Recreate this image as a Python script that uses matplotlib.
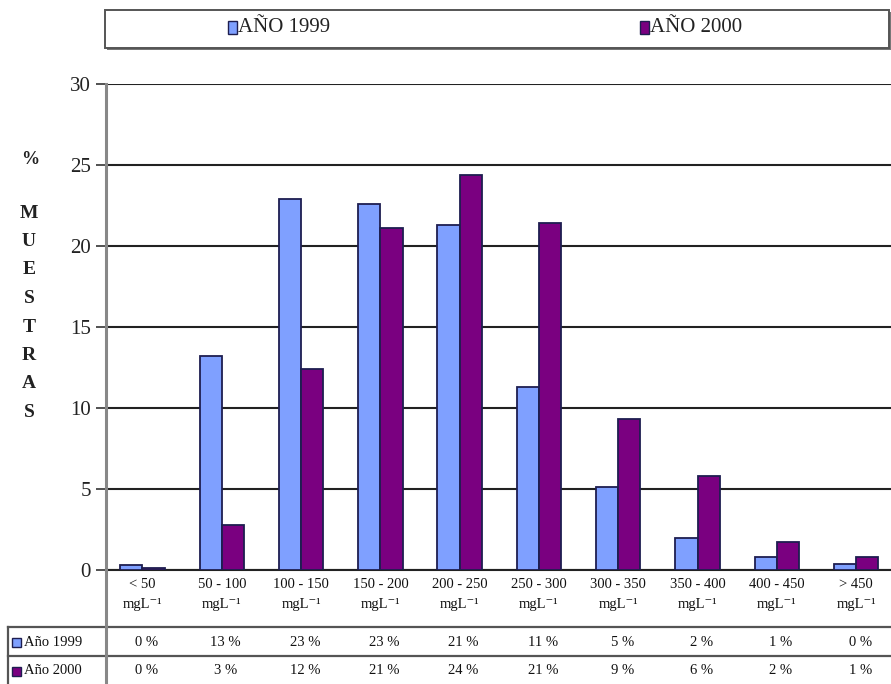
import matplotlib
matplotlib.use("Agg")
import matplotlib.pyplot as plt
import matplotlib.transforms as mtransforms
from matplotlib.patches import Rectangle
from matplotlib.lines import Line2D
import numpy as np

# Concentration classes and share of samples (%) per year
categories = ["< 50", "50 - 100", "100 - 150", "150 - 200", "200 - 250",
              "250 - 300", "300 - 350", "350 - 400", "400 - 450", "> 450"]
unit = "mgL\u207b\u00b9"
year_1999 = [0.3, 13.2, 22.9, 22.6, 21.3, 11.3, 5.1, 2.0, 0.8, 0.4]
year_2000 = [0.15, 2.8, 12.4, 21.1, 24.4, 21.4, 9.3, 5.8, 1.7, 0.8]
series_names = ["AÑO 1999", "AÑO 2000"]
row_names = ["Año 1999", "Año 2000"]
y_ticks = [0, 5, 10, 15, 20, 25, 30]

c1999 = "#7FA0FF"
c2000 = "#7A0080"
edge = "#1E1E50"
serif = ["Liberation Serif", "DejaVu Serif"]

W, H = 891, 684
fig = plt.figure(figsize=(W / 100, H / 100), dpi=100)
fig.patch.set_facecolor("white")


def fx(px):
    return px / W


def fy(py):
    return 1 - py / H


ax_left, ax_right, ax_top, ax_bot = 106, 891, 84, 570
ax = fig.add_axes([fx(ax_left), fy(ax_bot), fx(ax_right - ax_left), fy(ax_top) - fy(ax_bot)])

x = np.arange(len(categories))
bw = 0.28
ax.bar(x - bw / 2, year_1999, width=bw, color=c1999, edgecolor=edge, linewidth=1.3, zorder=3)
ax.bar(x + bw / 2, year_2000, width=bw, color=c2000, edgecolor=edge, linewidth=1.3, zorder=3)

ax.set_xlim(-0.46, -0.46 + (ax_right - ax_left) / 79.3)
ax.set_ylim(0, 30)
ax.set_yticks(y_ticks)
ax.set_yticklabels([str(t) for t in y_ticks], fontsize=15, family=serif, color="#222222")
ax.tick_params(axis="y", length=7, width=1.2, color="#333333", pad=4)
ax.yaxis.grid(True, color="#222222", linewidth=1.5, zorder=1)
ax.set_axisbelow(True)

ax.set_xticks(x)
ax.set_xticklabels([f"{c}\n{unit}" for c in categories], fontsize=10.5,
                   family=serif, linespacing=1.7, color="#111111")
ax.tick_params(axis="x", length=0, pad=6)

for s in ["top", "right"]:
    ax.spines[s].set_visible(False)
ax.spines["left"].set_color("#888888")
ax.spines["left"].set_linewidth(2.2)
ax.spines["bottom"].set_color("#222222")
ax.spines["bottom"].set_linewidth(1.5)

# y-axis title: "%" then vertical letters
fig.text(fx(30), fy(160), "%", fontsize=13, fontweight="bold", family=serif,
         ha="center", va="center", color="#222222")
for i, ch in enumerate("MUESTRAS"):
    fig.text(fx(29), fy(213 + i * 28.5), ch, fontsize=14, fontweight="bold",
             family=serif, ha="center", va="center", color="#222222")

# data table under the chart
tline = dict(color="#555555", linewidth=1.6, transform=fig.transFigure)
fig.add_artist(Line2D([fx(8), 1], [fy(627), fy(627)], **tline))
fig.add_artist(Line2D([fx(8), 1], [fy(656), fy(656)], **tline))
fig.add_artist(Line2D([fx(8), fx(8)], [fy(627), fy(684)], **tline))
fig.add_artist(Line2D([fx(ax_left), fx(ax_left)], [fy(ax_bot), fy(684)],
                      color="#888888", linewidth=2.2, transform=fig.transFigure))

trans = mtransforms.blended_transform_factory(ax.transData, fig.transFigure)
for row, (vals, col, name) in enumerate(zip([year_1999, year_2000], [c1999, c2000], row_names)):
    yc = fy(642 + row * 29)
    fig.add_artist(Rectangle((fx(12), yc - 4.5 / H), 9 / W, 9 / H, facecolor=col,
                             edgecolor=edge, linewidth=1, transform=fig.transFigure))
    fig.text(fx(24), yc, name, fontsize=10.5, family=serif, ha="left", va="center",
             color="#111111")
    for xi, v in zip(x, vals):
        ax.text(xi + 0.05, yc, f"{round(v):.0f} %", transform=trans, fontsize=10.5,
                family=serif, ha="center", va="center", color="#111111", clip_on=False)

# legend box at the top
fig.add_artist(Rectangle((fx(107), fy(50)), fx(786), 38 / H, facecolor="#777777",
                         edgecolor="none", transform=fig.transFigure))
fig.add_artist(Rectangle((fx(105), fy(48)), fx(784), 38 / H, facecolor="white",
                         edgecolor="#555555", linewidth=1.4, transform=fig.transFigure))
for (lx, col, name) in [(228, c1999, series_names[0]), (640, c2000, series_names[1])]:
    fig.add_artist(Rectangle((fx(lx), fy(34)), 9 / W, 13 / H, facecolor=col,
                             edgecolor=edge, linewidth=1, transform=fig.transFigure))
    fig.text(fx(lx + 10), fy(28), name, fontsize=15, family=serif, ha="left",
             va="center", color="#222222")

fig.savefig("out.png", dpi=100, facecolor="white")
